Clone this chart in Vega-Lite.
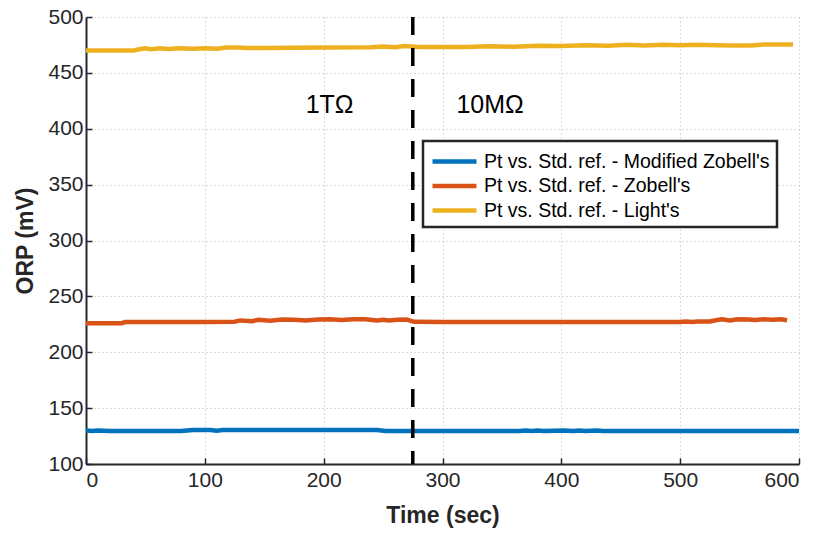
{
  "$schema": "https://vega.github.io/schema/vega-lite/v6.json",
  "width": 713,
  "height": 447,
  "autosize": {"type": "none"},
  "padding": {"left": 86, "top": 17, "right": 21, "bottom": 69},
  "background": "white",
  "config": {
    "font": "Liberation Sans",
    "view": {"stroke": null},
    "legend": {"strokeWidth": 2.5},
    "axis": {
      "domainColor": "#262626",
      "domainWidth": 2,
      "tickColor": "#262626",
      "tickSize": -6,
      "tickWidth": 1.5,
      "labelFontSize": 21,
      "labelColor": "#262626",
      "labelPadding": 9,
      "gridColor": "#b8b8b8",
      "gridDash": [1, 3],
      "gridWidth": 1,
      "titleFontSize": 23,
      "titleFontWeight": "bold",
      "titleColor": "#262626"
    }
  },
  "layer": [
    {
      "data": {"values": [
        {"t":0,"v":130,"s":"Pt vs. Std. ref. - Modified Zobell's"},
        {"t":5,"v":129.5,"s":"Pt vs. Std. ref. - Modified Zobell's"},
        {"t":10,"v":130,"s":"Pt vs. Std. ref. - Modified Zobell's"},
        {"t":20,"v":129.5,"s":"Pt vs. Std. ref. - Modified Zobell's"},
        {"t":80,"v":129.5,"s":"Pt vs. Std. ref. - Modified Zobell's"},
        {"t":85,"v":130,"s":"Pt vs. Std. ref. - Modified Zobell's"},
        {"t":90,"v":130.5,"s":"Pt vs. Std. ref. - Modified Zobell's"},
        {"t":105,"v":130.5,"s":"Pt vs. Std. ref. - Modified Zobell's"},
        {"t":110,"v":129.8,"s":"Pt vs. Std. ref. - Modified Zobell's"},
        {"t":115,"v":130.5,"s":"Pt vs. Std. ref. - Modified Zobell's"},
        {"t":200,"v":130.5,"s":"Pt vs. Std. ref. - Modified Zobell's"},
        {"t":245,"v":130.5,"s":"Pt vs. Std. ref. - Modified Zobell's"},
        {"t":252,"v":129.5,"s":"Pt vs. Std. ref. - Modified Zobell's"},
        {"t":300,"v":129.5,"s":"Pt vs. Std. ref. - Modified Zobell's"},
        {"t":365,"v":129.5,"s":"Pt vs. Std. ref. - Modified Zobell's"},
        {"t":370,"v":130,"s":"Pt vs. Std. ref. - Modified Zobell's"},
        {"t":375,"v":129.5,"s":"Pt vs. Std. ref. - Modified Zobell's"},
        {"t":380,"v":130,"s":"Pt vs. Std. ref. - Modified Zobell's"},
        {"t":385,"v":129.5,"s":"Pt vs. Std. ref. - Modified Zobell's"},
        {"t":402,"v":130,"s":"Pt vs. Std. ref. - Modified Zobell's"},
        {"t":410,"v":129.5,"s":"Pt vs. Std. ref. - Modified Zobell's"},
        {"t":415,"v":130,"s":"Pt vs. Std. ref. - Modified Zobell's"},
        {"t":420,"v":129.5,"s":"Pt vs. Std. ref. - Modified Zobell's"},
        {"t":430,"v":130,"s":"Pt vs. Std. ref. - Modified Zobell's"},
        {"t":435,"v":129.5,"s":"Pt vs. Std. ref. - Modified Zobell's"},
        {"t":500,"v":129.5,"s":"Pt vs. Std. ref. - Modified Zobell's"},
        {"t":600,"v":129.5,"s":"Pt vs. Std. ref. - Modified Zobell's"},

        {"t":0,"v":226,"s":"Pt vs. Std. ref. - Zobell's"},
        {"t":30,"v":226,"s":"Pt vs. Std. ref. - Zobell's"},
        {"t":33,"v":227,"s":"Pt vs. Std. ref. - Zobell's"},
        {"t":100,"v":227,"s":"Pt vs. Std. ref. - Zobell's"},
        {"t":125,"v":227.3,"s":"Pt vs. Std. ref. - Zobell's"},
        {"t":130,"v":228.5,"s":"Pt vs. Std. ref. - Zobell's"},
        {"t":140,"v":227.8,"s":"Pt vs. Std. ref. - Zobell's"},
        {"t":145,"v":229,"s":"Pt vs. Std. ref. - Zobell's"},
        {"t":155,"v":228.3,"s":"Pt vs. Std. ref. - Zobell's"},
        {"t":165,"v":229.2,"s":"Pt vs. Std. ref. - Zobell's"},
        {"t":175,"v":229,"s":"Pt vs. Std. ref. - Zobell's"},
        {"t":185,"v":228.4,"s":"Pt vs. Std. ref. - Zobell's"},
        {"t":195,"v":229.2,"s":"Pt vs. Std. ref. - Zobell's"},
        {"t":205,"v":229.6,"s":"Pt vs. Std. ref. - Zobell's"},
        {"t":215,"v":228.8,"s":"Pt vs. Std. ref. - Zobell's"},
        {"t":225,"v":229.6,"s":"Pt vs. Std. ref. - Zobell's"},
        {"t":235,"v":229.6,"s":"Pt vs. Std. ref. - Zobell's"},
        {"t":245,"v":228.4,"s":"Pt vs. Std. ref. - Zobell's"},
        {"t":250,"v":229,"s":"Pt vs. Std. ref. - Zobell's"},
        {"t":255,"v":228.4,"s":"Pt vs. Std. ref. - Zobell's"},
        {"t":262,"v":229,"s":"Pt vs. Std. ref. - Zobell's"},
        {"t":270,"v":229.2,"s":"Pt vs. Std. ref. - Zobell's"},
        {"t":276,"v":227.2,"s":"Pt vs. Std. ref. - Zobell's"},
        {"t":300,"v":227,"s":"Pt vs. Std. ref. - Zobell's"},
        {"t":400,"v":227,"s":"Pt vs. Std. ref. - Zobell's"},
        {"t":500,"v":227,"s":"Pt vs. Std. ref. - Zobell's"},
        {"t":505,"v":227.6,"s":"Pt vs. Std. ref. - Zobell's"},
        {"t":510,"v":227,"s":"Pt vs. Std. ref. - Zobell's"},
        {"t":515,"v":227.6,"s":"Pt vs. Std. ref. - Zobell's"},
        {"t":525,"v":227.6,"s":"Pt vs. Std. ref. - Zobell's"},
        {"t":530,"v":228.6,"s":"Pt vs. Std. ref. - Zobell's"},
        {"t":535,"v":229.6,"s":"Pt vs. Std. ref. - Zobell's"},
        {"t":542,"v":228.4,"s":"Pt vs. Std. ref. - Zobell's"},
        {"t":548,"v":229.6,"s":"Pt vs. Std. ref. - Zobell's"},
        {"t":558,"v":229.4,"s":"Pt vs. Std. ref. - Zobell's"},
        {"t":563,"v":228.8,"s":"Pt vs. Std. ref. - Zobell's"},
        {"t":570,"v":229.5,"s":"Pt vs. Std. ref. - Zobell's"},
        {"t":578,"v":229,"s":"Pt vs. Std. ref. - Zobell's"},
        {"t":585,"v":229.6,"s":"Pt vs. Std. ref. - Zobell's"},
        {"t":590,"v":228.6,"s":"Pt vs. Std. ref. - Zobell's"},

        {"t":0,"v":470,"s":"Pt vs. Std. ref. - Light's"},
        {"t":40,"v":470,"s":"Pt vs. Std. ref. - Light's"},
        {"t":45,"v":471.2,"s":"Pt vs. Std. ref. - Light's"},
        {"t":50,"v":472,"s":"Pt vs. Std. ref. - Light's"},
        {"t":55,"v":471.2,"s":"Pt vs. Std. ref. - Light's"},
        {"t":62,"v":472,"s":"Pt vs. Std. ref. - Light's"},
        {"t":70,"v":471.3,"s":"Pt vs. Std. ref. - Light's"},
        {"t":78,"v":472,"s":"Pt vs. Std. ref. - Light's"},
        {"t":90,"v":471.5,"s":"Pt vs. Std. ref. - Light's"},
        {"t":100,"v":472,"s":"Pt vs. Std. ref. - Light's"},
        {"t":110,"v":471.5,"s":"Pt vs. Std. ref. - Light's"},
        {"t":118,"v":472.6,"s":"Pt vs. Std. ref. - Light's"},
        {"t":128,"v":472.8,"s":"Pt vs. Std. ref. - Light's"},
        {"t":135,"v":472.2,"s":"Pt vs. Std. ref. - Light's"},
        {"t":150,"v":472.2,"s":"Pt vs. Std. ref. - Light's"},
        {"t":200,"v":472.6,"s":"Pt vs. Std. ref. - Light's"},
        {"t":240,"v":473,"s":"Pt vs. Std. ref. - Light's"},
        {"t":250,"v":473.6,"s":"Pt vs. Std. ref. - Light's"},
        {"t":260,"v":473,"s":"Pt vs. Std. ref. - Light's"},
        {"t":268,"v":474,"s":"Pt vs. Std. ref. - Light's"},
        {"t":280,"v":473.2,"s":"Pt vs. Std. ref. - Light's"},
        {"t":320,"v":473.2,"s":"Pt vs. Std. ref. - Light's"},
        {"t":340,"v":473.8,"s":"Pt vs. Std. ref. - Light's"},
        {"t":360,"v":473.4,"s":"Pt vs. Std. ref. - Light's"},
        {"t":380,"v":474.2,"s":"Pt vs. Std. ref. - Light's"},
        {"t":400,"v":474,"s":"Pt vs. Std. ref. - Light's"},
        {"t":420,"v":474.8,"s":"Pt vs. Std. ref. - Light's"},
        {"t":440,"v":474.2,"s":"Pt vs. Std. ref. - Light's"},
        {"t":455,"v":475.2,"s":"Pt vs. Std. ref. - Light's"},
        {"t":470,"v":474.6,"s":"Pt vs. Std. ref. - Light's"},
        {"t":485,"v":475.2,"s":"Pt vs. Std. ref. - Light's"},
        {"t":500,"v":474.8,"s":"Pt vs. Std. ref. - Light's"},
        {"t":515,"v":475.2,"s":"Pt vs. Std. ref. - Light's"},
        {"t":530,"v":474.8,"s":"Pt vs. Std. ref. - Light's"},
        {"t":545,"v":474.4,"s":"Pt vs. Std. ref. - Light's"},
        {"t":560,"v":474.4,"s":"Pt vs. Std. ref. - Light's"},
        {"t":570,"v":475.4,"s":"Pt vs. Std. ref. - Light's"},
        {"t":595,"v":475.4,"s":"Pt vs. Std. ref. - Light's"}
      ]},
      "mark": {"type": "line", "strokeWidth": 4.5, "clip": true},
      "encoding": {
        "x": {"field": "t", "type": "quantitative", "scale": {"domain": [0, 600], "nice": false},
              "axis": {"title": "Time (sec)", "values": [0,100,200,300,400,500,600], "titlePadding": 14, "labelPadding": 11}},
        "y": {"field": "v", "type": "quantitative", "scale": {"domain": [100, 500], "nice": false, "zero": false},
              "axis": {"title": "ORP (mV)", "values": [100,150,200,250,300,350,400,450,500], "titlePadding": 10}},
        "color": {"field": "s", "type": "nominal",
          "scale": {"domain": ["Pt vs. Std. ref. - Modified Zobell's", "Pt vs. Std. ref. - Zobell's", "Pt vs. Std. ref. - Light's"],
                    "range": ["#0072BD", "#D95319", "#EDB120"]},
          "legend": {"title": null, "orient": "none", "legendX": 337, "legendY": 124,
                     "symbolType": "M-1,0L3,0", "symbolSize": 484, "symbolStrokeWidth": 4.5,
                     "labelFontSize": 19.5, "labelColor": "#000", "labelLimit": 400, "labelOffset": 27,
                     "rowPadding": 1.5, "padding": 7,
                     "fillColor": "white", "strokeColor": "#262626"}}
      }
    },
    {
      "data": {"values": [{"t": 275}]},
      "mark": {"type": "rule", "color": "black", "strokeWidth": 3.5, "strokeDash": [18, 13]},
      "encoding": {"x": {"field": "t", "type": "quantitative"}}
    },
    {
      "data": {"values": [{"t": 205, "v": 421, "label": "1TΩ"}, {"t": 340, "v": 421, "label": "10MΩ"}]},
      "mark": {"type": "text", "fontSize": 25, "color": "black", "align": "center", "baseline": "middle"},
      "encoding": {
        "x": {"field": "t", "type": "quantitative"},
        "y": {"field": "v", "type": "quantitative"},
        "text": {"field": "label"}
      }
    }
  ]
}
